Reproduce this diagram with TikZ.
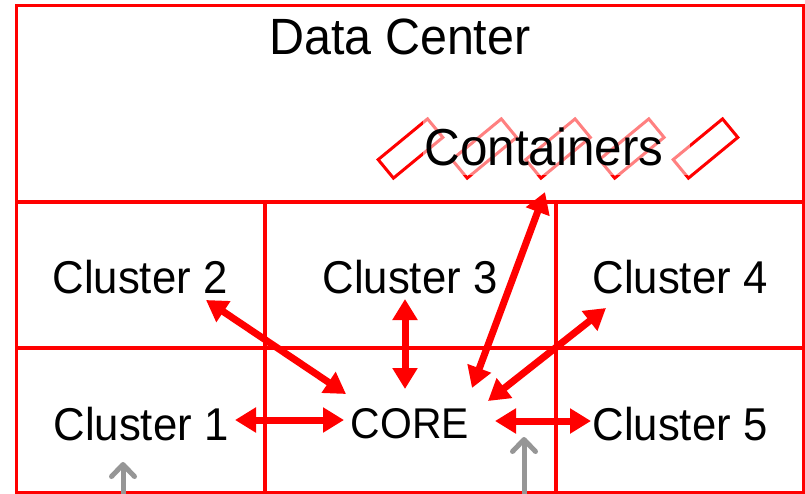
\documentclass[tikz,border=0pt]{standalone}
\usepackage{fontspec}
\setmainfont{Liberation Sans}[FakeStretch=0.95]
\usetikzlibrary{arrows.meta, math}
\definecolor{myred}{RGB}{255,0,0}
\definecolor{mygray}{RGB}{150,150,150}

\begin{document}
\begin{tikzpicture}[x=1pt, y=-1pt,
  wall/.style={draw=myred, line width=3.5pt},
  link/.style={{Triangle[length=21pt,width=24pt]}-{Triangle[length=21pt,width=24pt]}, draw=myred, line width=7pt},
  feed/.style={-{Straight Barb[length=12pt,width=23pt,round]}, draw=mygray, line width=5pt},
  txt/.style={font=\fontsize{46}{52}\selectfont, inner sep=0pt},
  crate/.style={draw=myred, line width=3pt, minimum width=64pt, minimum height=24pt, rotate=39.5, inner sep=0pt}
]
\tikzmath{
\W=805; \H=493;
\xa=265; \xb=556;
\ya=202; \yb=348;
}
\useasboundingbox (0,0) rectangle (\W,\H);

% frame and grid
\draw[wall] (16.5,5.5) rectangle (804,\H);
\draw[wall] (16.5,\ya) -- (804,\ya);
\draw[wall] (16.5,\yb) -- (804,\yb);
\draw[wall] (\xa,\ya) -- (\xa,\H);
\draw[wall] (\xb,\ya) -- (\xb,\H);

% containers
\foreach \i in {0,...,4}
  \node[crate] (ship\i) at (410.5+73.75*\i,148.5) {};
\fill[white, fill opacity=0.5] (423,110) rectangle (690,175);

\node[txt, font=\fontsize{51}{58}\selectfont] (dc) at (400,37) {Data Center};
\node[txt, font=\fontsize{52}{58}\selectfont] (cont) at (544,147) {Containers};
\node[txt] (cl2) at (140,277) {Cluster 2};
\node[txt] (cl3) at (410,277) {Cluster 3};
\node[txt] (cl4) at (680,277) {Cluster 4};
\node[txt] (cl1) at (141,424) {Cluster 1};
\node[txt, font=\fontsize{43}{50}\selectfont] (core) at (410,424) {CORE};
\node[txt] (cl5) at (680,424) {Cluster 5};

% arrow ends
\coordinate (cl2-in) at (206,300);   \coordinate (core-nw) at (346,394);
\coordinate (cl3-in) at (405,299);   \coordinate (core-n) at (405,389);
\coordinate (cont-in) at (545,192);  \coordinate (core-ne) at (472,388);
\coordinate (cl4-in) at (606,308);   \coordinate (core-e1) at (488,401);
\coordinate (cl1-in) at (235,420);   \coordinate (core-w) at (344,420);
\coordinate (core-e) at (495,421);   \coordinate (cl5-in) at (591,421);

\draw[link] (cl2-in) -- (core-nw);
\draw[link] (cl3-in) -- (core-n);
\draw[link] (cont-in) -- (core-ne);
\draw[link] (cl4-in) -- (core-e1);
\draw[link] (cl1-in) -- (core-w);
\draw[link] (core-e) -- (cl5-in);

% incoming feeds
\coordinate (feed1) at (123,500);
\coordinate (feed2) at (524,500);
\draw[feed] (feed1) -- (123,462);
\draw[feed] (feed2) -- (524,437);
\end{tikzpicture}
\end{document}
